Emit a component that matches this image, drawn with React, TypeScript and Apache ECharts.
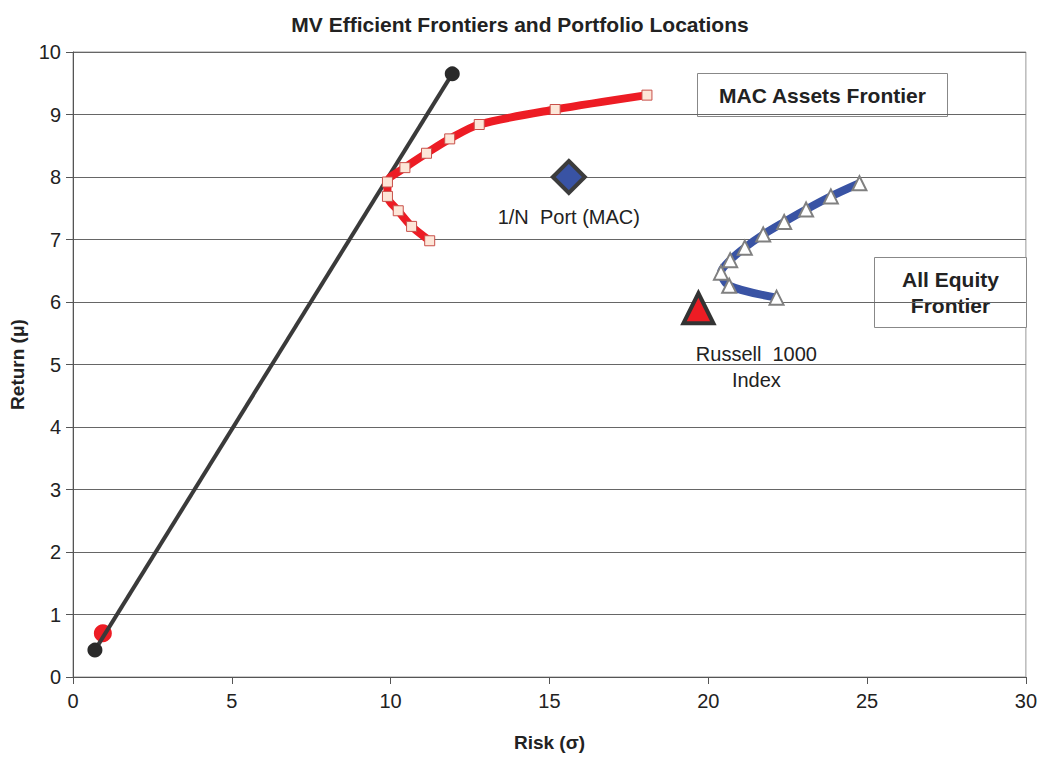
import React, { useEffect, useRef } from "react";
import * as echarts from "echarts";

const macFrontier: [number, number][] = [
  [11.23, 6.98], [10.66, 7.21], [10.24, 7.46], [9.9, 7.69], [9.9, 7.92],
  [10.45, 8.15], [11.13, 8.38], [11.86, 8.61], [12.79, 8.84], [15.18, 9.08], [18.07, 9.31],
];
const equityFrontier: [number, number][] = [
  [22.15, 6.07], [20.66, 6.26], [20.4, 6.47], [20.69, 6.67], [21.15, 6.87],
  [21.73, 7.08], [22.39, 7.28], [23.08, 7.48], [23.86, 7.69], [24.76, 7.9],
];
const cml: [number, number][] = [[0.69, 0.43], [11.94, 9.65]];
const riskFree: [number, number][] = [[0.94, 0.7]];
const equalWeight: [number, number][] = [[15.61, 8.0]];
const russell: [number, number][] = [[19.69, 5.9]];

const xTicks = { min: 0, max: 30, interval: 5 };
const yTicks = { min: 0, max: 10, interval: 1 };

export default function App() {
  const ref = useRef<HTMLDivElement>(null);
  useEffect(() => {
    const chart = echarts.init(ref.current!, undefined, { renderer: "svg" });
    const sans = "'Liberation Sans', Arial, sans-serif";
    chart.setOption({
      animation: false,
      backgroundColor: "#ffffff",
      title: {
        text: "MV Efficient Frontiers and Portfolio Locations",
        left: "center",
        top: 9,
        textStyle: { fontFamily: sans, fontSize: 21, fontWeight: "bold", color: "#222" },
      },
      grid: { left: 71, right: 12, top: 52, bottom: 75, show: true, borderColor: "#999", borderWidth: 1 },
      xAxis: {
        type: "value",
        ...xTicks,
        name: "Risk (σ)",
        nameLocation: "middle",
        nameGap: 56,
        nameTextStyle: { fontFamily: sans, fontSize: 19, fontWeight: "bold", color: "#222" },
        axisLine: { show: true, lineStyle: { color: "#555", width: 1 } },
        axisTick: { show: true, length: 7, lineStyle: { color: "#555" } },
        axisLabel: { fontFamily: sans, fontSize: 20, color: "#222", margin: 14 },
        splitLine: { show: false },
      },
      yAxis: {
        type: "value",
        ...yTicks,
        name: "Return (μ)",
        nameLocation: "middle",
        nameGap: 46,
        nameTextStyle: { fontFamily: sans, fontSize: 19, fontWeight: "bold", color: "#222" },
        axisLine: { show: true, lineStyle: { color: "#555", width: 1 } },
        axisTick: { show: true, length: 7, lineStyle: { color: "#555" } },
        axisLabel: { fontFamily: sans, fontSize: 20, color: "#222", margin: 12 },
        splitLine: { show: true, lineStyle: { color: "#666", width: 1 } },
      },
      series: [
        {
          type: "scatter",
          data: riskFree,
          symbol: "circle",
          symbolSize: 18,
          itemStyle: { color: "#ed1c24", opacity: 1 },
          z: 2,
        },
        {
          type: "line",
          data: cml,
          symbol: "circle",
          symbolSize: 15,
          showSymbol: true,
          lineStyle: { color: "#3a3a3a", width: 4 },
          itemStyle: { color: "#2a2a2a" },
          z: 3,
        },
        {
          type: "line",
          data: macFrontier,
          smooth: 0.3,
          symbol: "rect",
          symbolSize: 10,
          showSymbol: true,
          lineStyle: { color: "#ed1c24", width: 8 },
          itemStyle: { color: "#fde6d8", borderColor: "#c8504a", borderWidth: 1 },
          z: 4,
        },
        {
          type: "line",
          data: equityFrontier,
          smooth: 0.3,
          symbol: "triangle",
          symbolSize: 14,
          showSymbol: true,
          lineStyle: { color: "#3953a4", width: 8 },
          itemStyle: { color: "#ffffff", borderColor: "#808080", borderWidth: 2 },
          z: 4,
        },
        {
          type: "scatter",
          data: equalWeight,
          symbol: "diamond",
          symbolSize: 32,
          itemStyle: { color: "#3953a4", borderColor: "#3c3c3c", borderWidth: 4, opacity: 1 },
          label: {
            show: true,
            position: "bottom",
            distance: 12,
            formatter: "1/N  Port (MAC)",
            fontFamily: sans,
            fontSize: 20,
            color: "#222",
          },
          z: 5,
        },
        {
          type: "scatter",
          data: russell,
          symbol: "triangle",
          symbolSize: 30,
          itemStyle: { color: "#ed1c24", borderColor: "#333", borderWidth: 4, opacity: 1 },
          label: {
            show: true,
            position: "bottom",
            distance: 16,
            offset: [58, 0],
            formatter: "Russell  1000\nIndex",
            fontFamily: sans,
            fontSize: 20,
            lineHeight: 26,
            align: "center",
            color: "#222",
          },
          z: 5,
        },
      ],
      graphic: [
        {
          type: "group",
          left: 697,
          top: 73,
          children: [
            {
              type: "rect",
              shape: { x: 0, y: 0, width: 250, height: 43 },
              style: { fill: "#fff", stroke: "#888", lineWidth: 1 },
            },
            {
              type: "text",
              x: 125,
              y: 22,
              style: {
                text: "MAC Assets Frontier",
                fontFamily: sans,
                fontSize: 21,
                fontWeight: "bold",
                fill: "#222",
                align: "center",
                verticalAlign: "middle",
              },
            },
          ],
        },
        {
          type: "group",
          left: 874,
          top: 257,
          children: [
            {
              type: "rect",
              shape: { x: 0, y: 0, width: 152, height: 70 },
              style: { fill: "#fff", stroke: "#888", lineWidth: 1 },
            },
            {
              type: "text",
              x: 76,
              y: 35,
              style: {
                text: "All Equity\nFrontier",
                fontFamily: sans,
                fontSize: 21,
                fontWeight: "bold",
                lineHeight: 26,
                fill: "#222",
                align: "center",
                verticalAlign: "middle",
              },
            },
          ],
        },
      ],
    });
    return () => chart.dispose();
  }, []);
  return (
    <div
      ref={ref}
      style={{ position: "fixed", left: 0, top: 0, width: 1040, height: 757 }}
    />
  );
}
